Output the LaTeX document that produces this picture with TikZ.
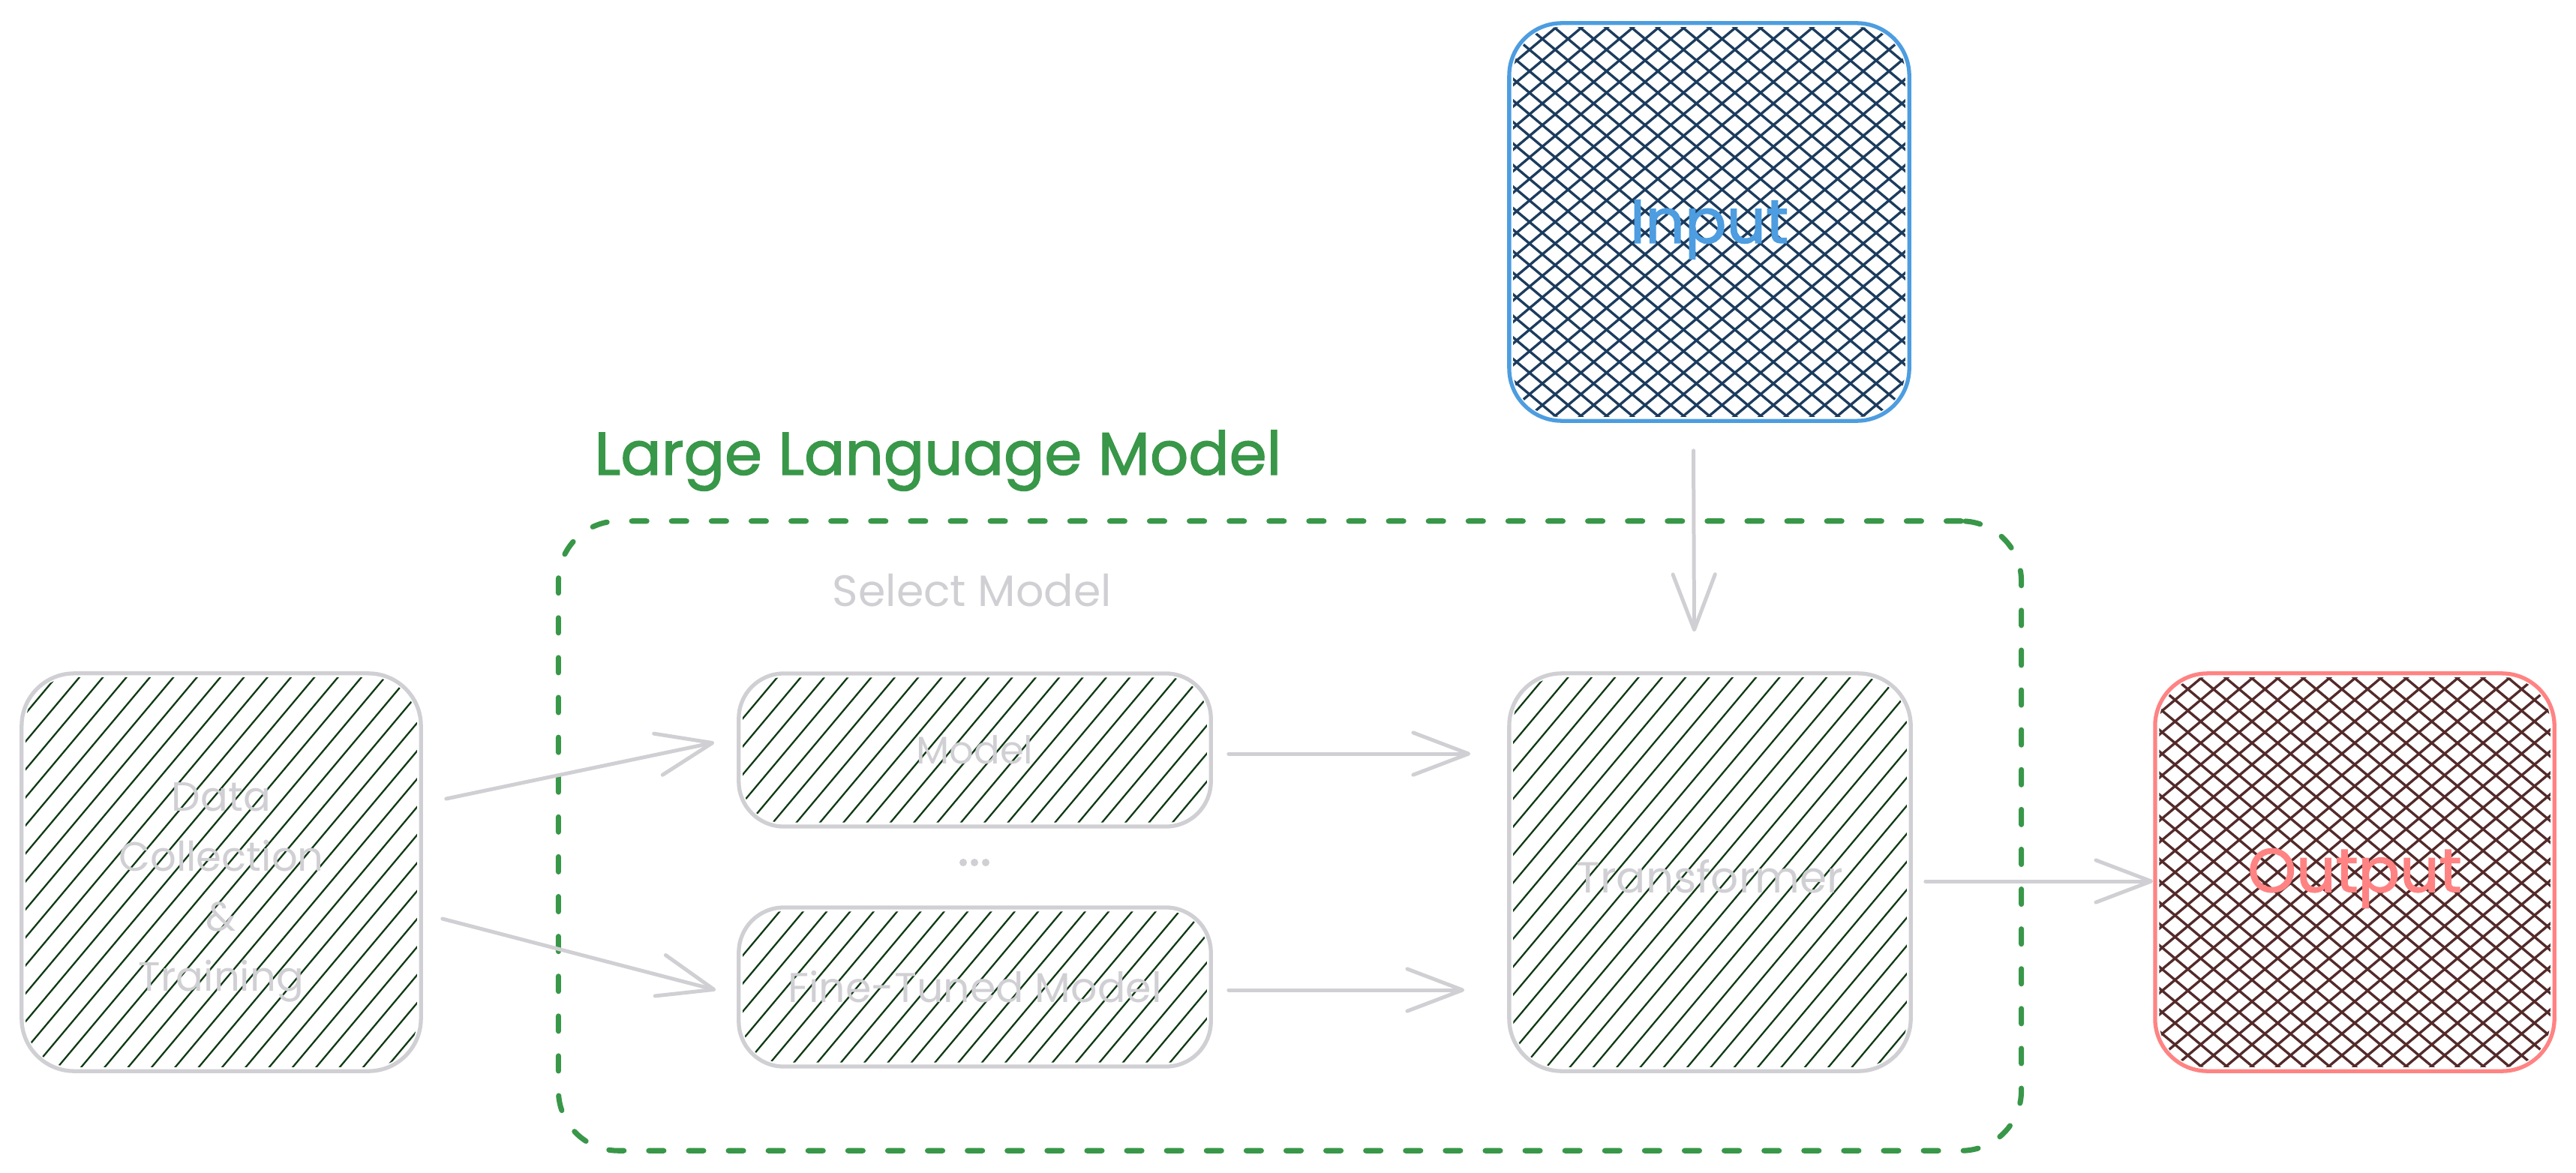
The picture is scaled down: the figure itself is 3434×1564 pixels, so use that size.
\documentclass[tikz,border=0pt]{standalone}
\usepackage{fontspec}
\setmainfont{Poppins}
\newfontfamily\heavyfont{Poppins}[FakeBold=1.6]
\usepackage{graphicx}
\usetikzlibrary{arrows.meta,calc}

\definecolor{edgegray}{RGB}{208,207,211}
\definecolor{hatchgreen}{RGB}{16,58,20}
\definecolor{inblue}{RGB}{77,157,224}
\definecolor{innavy}{RGB}{28,60,94}
\definecolor{outpink}{RGB}{255,131,131}
\definecolor{outbrown}{RGB}{84,42,42}
\definecolor{llmgreen}{RGB}{56,151,72}

% scale a label to a given width
\newcommand{\fitw}[2]{\resizebox{#1}{!}{#2}}

% parallel hatch lines inside a rounded box node
% #1 node, #2 angle, #3 spacing, #4 colour, #5 line width, #6 corner radius
\newcommand{\hatchfill}[6]{%
  \begin{scope}
    \clip[rounded corners=#6] ($(#1.south west)+(8,-8)$) rectangle ($(#1.north east)+(-8,8)$);
    \pgfmathsetmacro\hca{cos(#2)}%
    \pgfmathsetmacro\hsa{sin(#2)}%
    \foreach \k in {-30,...,30}{%
      \pgfmathsetmacro\px{-(\k)*(#3)*\hsa}%
      \pgfmathsetmacro\py{(\k)*(#3)*\hca}%
      \draw[draw=#4, line width=#5]
        ($(#1.center)+({\px-700*\hca},{\py-700*\hsa})$) --
        ($(#1.center)+({\px+700*\hca},{\py+700*\hsa})$);
    }%
  \end{scope}}

\tikzset{
  x=0.01cm, y=-0.01cm,
  boxbase/.style={rectangle, inner sep=0pt, line width=1.5pt, rounded corners=0.7cm},
  graybox/.style={boxbase, draw=edgegray},
  inbox/.style={boxbase, draw=inblue},
  outbox/.style={boxbase, draw=outpink},
  llmbox/.style={rectangle, inner sep=0pt, draw=llmgreen, line width=2pt,
    line cap=round, rounded corners=0.8cm, dash pattern=on 5.7pt off 9.4pt},
  arr/.style={draw=edgegray, line width=1.42pt, line cap=round,
    -{Straight Barb[length=21pt, width=16pt, line cap=round, line join=round]}},
  graytext/.style={text=edgegray, inner sep=0pt},
}

\begin{document}
\begin{tikzpicture}
  \useasboundingbox (0,0) rectangle (3434,1564);

  % dashed container and its labels
  \node[llmbox, minimum width=19.49cm, minimum height=8.39cm] (llm) at (1719.5,1114.5) {};
  \node[text=llmgreen, inner sep=0pt] (title) at (1250.5,614)
        {\fitw{9.15cm}{\heavyfont Large Language Model}};
  \node[graytext] (select) at (1296,787) {\fitw{3.72cm}{Select Model}};

  % boxes
  \node[graybox, minimum width=5.32cm, minimum height=5.30cm] (data) at (295,1163) {};
  \node[graybox, rounded corners=0.6cm, minimum width=6.29cm, minimum height=2.04cm] (model)
        at (1299.5,1000) {};
  \node[graybox, rounded corners=0.6cm, minimum width=6.29cm, minimum height=2.12cm] (ft)
        at (1299.5,1316) {};
  \node[graybox, minimum width=5.35cm, minimum height=5.30cm] (trans) at (2279.5,1163) {};
  \node[inbox, minimum width=5.33cm, minimum height=5.30cm] (input) at (2278.5,296) {};
  \node[outbox, minimum width=5.32cm, minimum height=5.30cm] (output) at (3139,1163) {};

  % fills
  \hatchfill{data}{-50}{24}{hatchgreen}{0.65pt}{0.62cm}
  \hatchfill{model}{-50}{24}{hatchgreen}{0.65pt}{0.52cm}
  \hatchfill{ft}{-50}{24}{hatchgreen}{0.65pt}{0.52cm}
  \hatchfill{trans}{-50}{24}{hatchgreen}{0.65pt}{0.62cm}
  \hatchfill{input}{40}{22}{innavy}{0.95pt}{0.62cm}
  \hatchfill{input}{-40}{22}{innavy}{0.95pt}{0.62cm}
  \hatchfill{output}{40}{22}{outbrown}{0.95pt}{0.62cm}
  \hatchfill{output}{-40}{22}{outbrown}{0.95pt}{0.62cm}

  % labels
  \node[graytext, align=center, font=\fontsize{15.5}{22.7}\selectfont] (datalabel)
        at ($(data.center)+(0,27)$) {Data\\Collection\\\&\\Training};
  \node[graytext] (modellabel) at (model.center) {\fitw{1.56cm}{Model}};
  \node[graytext] (dots) at (1299,1150) {\fitw{0.45cm}{\heavyfont ...}};
  \node[graytext] (ftlabel) at (ft.center) {\fitw{4.98cm}{Fine-Tuned Model}};
  \node[graytext] (translabel) at ($(trans.center)+(0,6)$) {\fitw{3.55cm}{Transformer}};
  \node[text=inblue, inner sep=0pt] (inlabel) at ($(input.center)+(0,10)$)
        {\fitw{2.11cm}{\heavyfont Input}};
  \node[text=outpink, inner sep=0pt] (outlabel) at ($(output.center)+(0,8)$)
        {\fitw{2.85cm}{\heavyfont Output}};

  % connectors
  \draw[arr] ($(data.east)+(31,-98)$) -- ($(model.west)+(-30,-10)$);
  \draw[arr] ($(data.east)+(26,62)$) -- ($(ft.west)+(-28,4)$);
  \draw[arr] ($(model.east)+(21,5)$) -- ($(model.east -| trans.west)+(-49,5)$);
  \draw[arr] ($(ft.east)+(21,4)$) -- ($(ft.east -| trans.west)+(-57,4)$);
  \draw[arr] ($(input.south)+(-21,37)$) -- ($(trans.north)+(-21,-53)$);
  \draw[arr] ($(trans.east)+(17,12)$) -- ($(output.west)+(0,12)$);
\end{tikzpicture}
\end{document}
